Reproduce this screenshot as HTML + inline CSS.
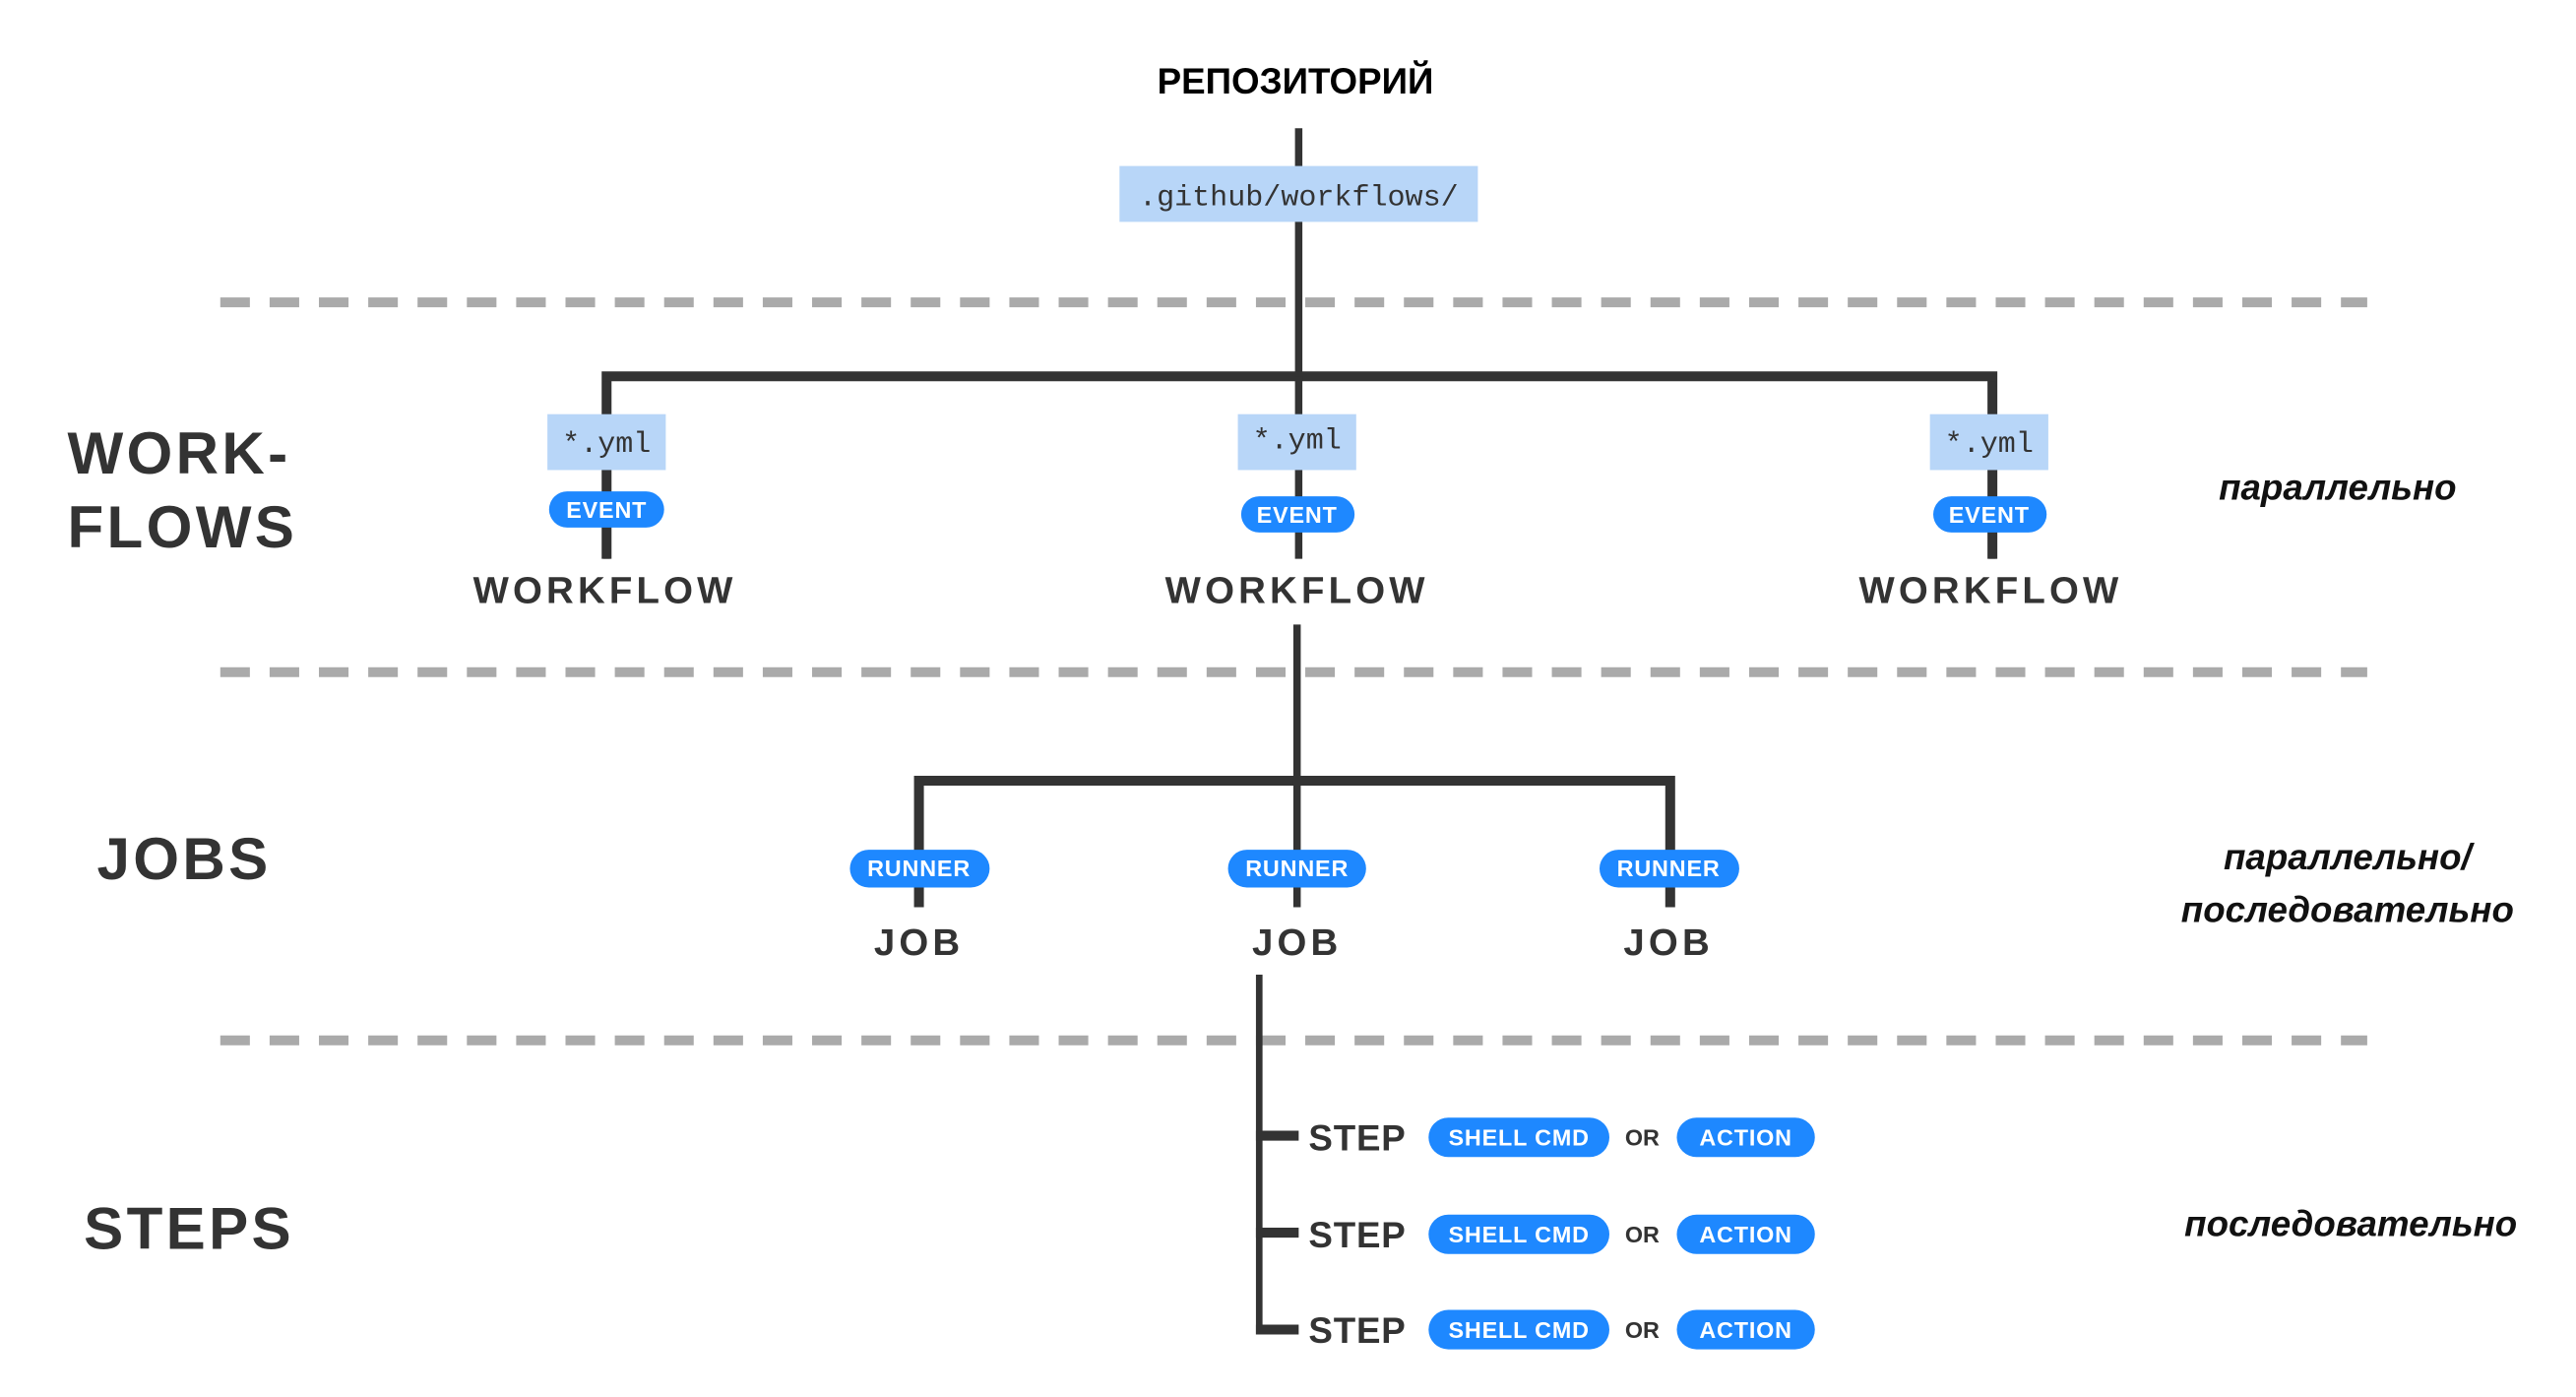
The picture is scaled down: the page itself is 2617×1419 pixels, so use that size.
<!DOCTYPE html>
<html><head><meta charset="utf-8"><style>
html,body{margin:0;padding:0;background:#fff;width:2617px;height:1419px;overflow:hidden;}
svg{display:block}
.h{font-family:"Liberation Sans",sans-serif;font-weight:bold;fill:#333}
.m{font-family:"Liberation Mono",monospace;fill:#333;font-size:18px}
.p{font-family:"Liberation Sans",sans-serif;font-weight:bold;fill:#fff;font-size:14px;letter-spacing:0.5px}
.r{font-family:"Liberation Sans","DejaVu Sans",sans-serif;font-weight:bold;font-style:italic;fill:#111;font-size:22px}
</style></head><body>
<svg width="2617" height="1419" viewBox="0 0 1567 850" preserveAspectRatio="none" xmlns="http://www.w3.org/2000/svg">
<rect width="1567" height="850" fill="#fff"/>
<g stroke="#aaa" stroke-width="6" stroke-dasharray="18 12">
<line x1="134" y1="184" x2="1440" y2="184"/>
<line x1="134" y1="409" x2="1440" y2="409"/>
<line x1="134" y1="633" x2="1440" y2="633"/>
</g>
<g stroke="#333" fill="none">
<line x1="790" y1="78" x2="790" y2="232" stroke-width="4.5"/>
<polyline points="369,340 369,229 1212,229 1212,340" stroke-width="6"/>
<line x1="369" y1="232" x2="369" y2="340" stroke-width="4"/>
<line x1="1212" y1="232" x2="1212" y2="340" stroke-width="4"/>
<line x1="790" y1="229" x2="790" y2="340" stroke-width="4.5"/>
<line x1="789" y1="380" x2="789" y2="478" stroke-width="4.5"/>
<polyline points="559,552 559,475 1016,475 1016,552" stroke-width="6"/>
<line x1="789" y1="475" x2="789" y2="552" stroke-width="4.5"/>
<line x1="766" y1="593" x2="766" y2="812" stroke-width="4"/>
<line x1="764" y1="691" x2="790" y2="691" stroke-width="6"/>
<line x1="764" y1="750" x2="790" y2="750" stroke-width="6"/>
<line x1="764" y1="809" x2="790" y2="809" stroke-width="6"/>
</g>
<text x="788" y="57" text-anchor="middle" class="h" style="fill:#000;font-size:22px">РЕПОЗИТОРИЙ</text>
<rect x="681" y="101" width="218" height="34" fill="#b8d6f8"/>
<text x="790" y="125" text-anchor="middle" class="m">.github/workflows/</text>
<rect x="333" y="252" width="72" height="34" fill="#b8d6f8"/>
<text x="369" y="275" text-anchor="middle" class="m">*.yml</text>
<rect x="753" y="252" width="72" height="34" fill="#b8d6f8"/>
<text x="789" y="273" text-anchor="middle" class="m">*.yml</text>
<rect x="1174" y="252" width="72" height="34" fill="#b8d6f8"/>
<text x="1210" y="275" text-anchor="middle" class="m">*.yml</text>
<g fill="#1e88ff">
<rect x="334" y="299" width="70" height="22" rx="11"/>
<rect x="755" y="302" width="69" height="22" rx="11"/>
<rect x="1176" y="302" width="69" height="22" rx="11"/>
<rect x="517" y="517" width="85" height="23" rx="11.5"/>
<rect x="747" y="517" width="84" height="23" rx="11.5"/>
<rect x="973" y="517" width="85" height="23" rx="11.5"/>
<rect x="869" y="680" width="110" height="24" rx="12"/>
<rect x="1020" y="680" width="84" height="24" rx="12"/>
<rect x="869" y="739" width="110" height="24" rx="12"/>
<rect x="1020" y="739" width="84" height="24" rx="12"/>
<rect x="869" y="797" width="110" height="24" rx="12"/>
<rect x="1020" y="797" width="84" height="24" rx="12"/>
</g>
<g class="p" text-anchor="middle">
<text x="369" y="315">EVENT</text>
<text x="789" y="318">EVENT</text>
<text x="1210" y="318">EVENT</text>
<text x="559" y="533">RUNNER</text>
<text x="789" y="533">RUNNER</text>
<text x="1015" y="533">RUNNER</text>
<text x="924" y="697">SHELL CMD</text><text x="1062" y="697">ACTION</text>
<text x="924" y="756">SHELL CMD</text><text x="1062" y="756">ACTION</text>
<text x="924" y="814">SHELL CMD</text><text x="1062" y="814">ACTION</text>
</g>
<g class="h" text-anchor="middle" style="font-size:23px;letter-spacing:2.5px">
<text x="368" y="367">WORKFLOW</text>
<text x="789" y="367">WORKFLOW</text>
<text x="1211" y="367">WORKFLOW</text>
<text x="559" y="581">JOB</text>
<text x="789" y="581">JOB</text>
<text x="1015" y="581">JOB</text>
</g>
<g class="h" style="font-size:22px;letter-spacing:0.5px">
<text x="796" y="700">STEP</text>
<text x="796" y="759">STEP</text>
<text x="796" y="817">STEP</text>
</g>
<g class="h" text-anchor="middle" style="font-size:14px">
<text x="999" y="697">OR</text><text x="999" y="756">OR</text><text x="999" y="814">OR</text>
</g>
<g class="h" style="font-size:36px;letter-spacing:2px">
<text x="41" y="288">WORK-</text>
<text x="41" y="333">FLOWS</text>
<text x="59" y="535">JOBS</text>
<text x="51" y="760">STEPS</text>
</g>
<g class="r" text-anchor="middle">
<text x="1422" y="304">параллельно</text>
<text x="1428" y="529">параллельно/</text>
<text x="1428" y="561">последовательно</text>
<text x="1430" y="752">последовательно</text>
</g>
</svg>
</body></html>
